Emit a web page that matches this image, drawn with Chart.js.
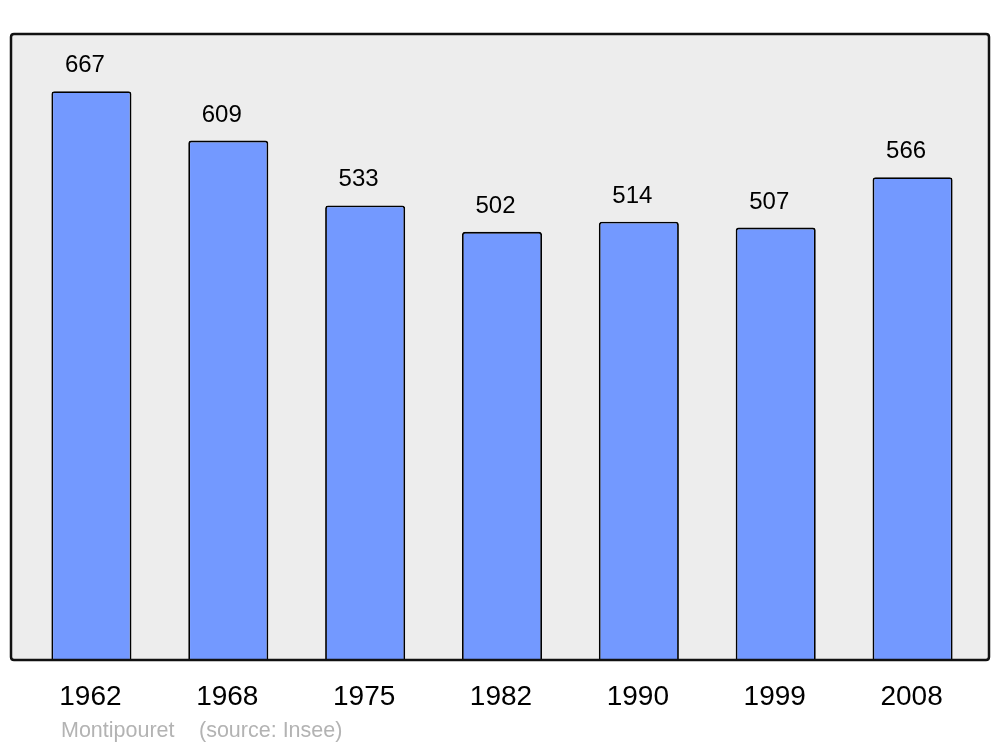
<!DOCTYPE html>
<html>
<head>
<meta charset="utf-8">
<script src="https://cdn.jsdelivr.net/npm/chart.js@4.4.1/dist/chart.umd.min.js"></script>
<style>
  html, body { margin: 0; padding: 0; background: #fff; }
  #wrap { width: 1000px; height: 747px; }
</style>
</head>
<body>
<div id="wrap"><canvas id="chartPop"></canvas></div>
<script>
const years = ['1962', '1968', '1975', '1982', '1990', '1999', '2008'];
const population = [667, 609, 533, 502, 514, 507, 566];
const footerName = 'Montipouret';
const footerSource = '(source: Insee)';

// frame box around the plot (background + border)
const frameBox = { left: 11, top: 34, right: 989, bottom: 660 };

function roundRect(ctx, x, y, w, h, r) {
    ctx.beginPath();
    ctx.moveTo(x + r, y);
    ctx.lineTo(x + w - r, y);
    ctx.quadraticCurveTo(x + w, y, x + w, y + r);
    ctx.lineTo(x + w, y + h - r);
    ctx.quadraticCurveTo(x + w, y + h, x + w - r, y + h);
    ctx.lineTo(x + r, y + h);
    ctx.quadraticCurveTo(x, y + h, x, y + h - r);
    ctx.lineTo(x, y + r);
    ctx.quadraticCurveTo(x, y, x + r, y);
    ctx.closePath();
}

const framePlugin = {
    id: 'framePlugin',
    beforeDatasetsDraw(chart) {
        const ctx = chart.ctx;
        ctx.save();
        roundRect(ctx, frameBox.left, frameBox.top, frameBox.right - frameBox.left, frameBox.bottom - frameBox.top, 3);
        ctx.fillStyle = '#ededed';
        ctx.fill();
        ctx.restore();
    },
    afterDatasetsDraw(chart) {
        const ctx = chart.ctx;
        const xs = chart.scales.x, ys = chart.scales.y;
        ctx.save();
        roundRect(ctx, frameBox.left, frameBox.top, frameBox.right - frameBox.left, frameBox.bottom - frameBox.top, 3);
        ctx.lineWidth = 2.5;
        ctx.strokeStyle = '#111';
        ctx.stroke();

        // value labels above bars
        ctx.fillStyle = '#000';
        ctx.textAlign = 'center';
        ctx.textBaseline = 'alphabetic';
        ctx.font = '24px "Liberation Sans", Arial, sans-serif';
        population.forEach((v, i) => {
            ctx.fillText(String(v), xs.getPixelForValue(i) - 6.5, ys.getPixelForValue(v) - 19);
        });

        // year labels
        ctx.font = '28px "Liberation Sans", Arial, sans-serif';
        years.forEach((y, i) => {
            ctx.fillText(y, xs.getPixelForValue(i) - 1, 705);
        });

        // footer
        ctx.textAlign = 'left';
        ctx.fillStyle = '#b3b3b3';
        ctx.font = '21.5px "Liberation Sans", Arial, sans-serif';
        ctx.fillText(footerName, 61, 737);
        ctx.fillText(footerSource, 199, 737);
        ctx.restore();
    }
};

const ctx = document.getElementById('chartPop').getContext('2d');
new Chart(ctx, {
    type: 'bar',
    data: {
        labels: years,
        datasets: [{
            data: population,
            backgroundColor: '#7399ff',
            borderColor: '#000',
            borderWidth: 1.8,
            borderRadius: { topLeft: 3, topRight: 3, bottomLeft: 0, bottomRight: 0 },
            borderSkipped: 'bottom',
            barPercentage: 0.585,
            categoryPercentage: 1.0
        }]
    },
    options: {
        responsive: true,
        maintainAspectRatio: false,
        animation: false,
        layout: { padding: { left: 23, right: 19, top: 34, bottom: 87 } },
        scales: {
            x: { display: false, offset: true },
            y: { display: false, min: 0, max: 734 }
        },
        plugins: {
            legend: { display: false },
            tooltip: { enabled: false }
        }
    },
    plugins: [framePlugin]
});
</script>
</body>
</html>
